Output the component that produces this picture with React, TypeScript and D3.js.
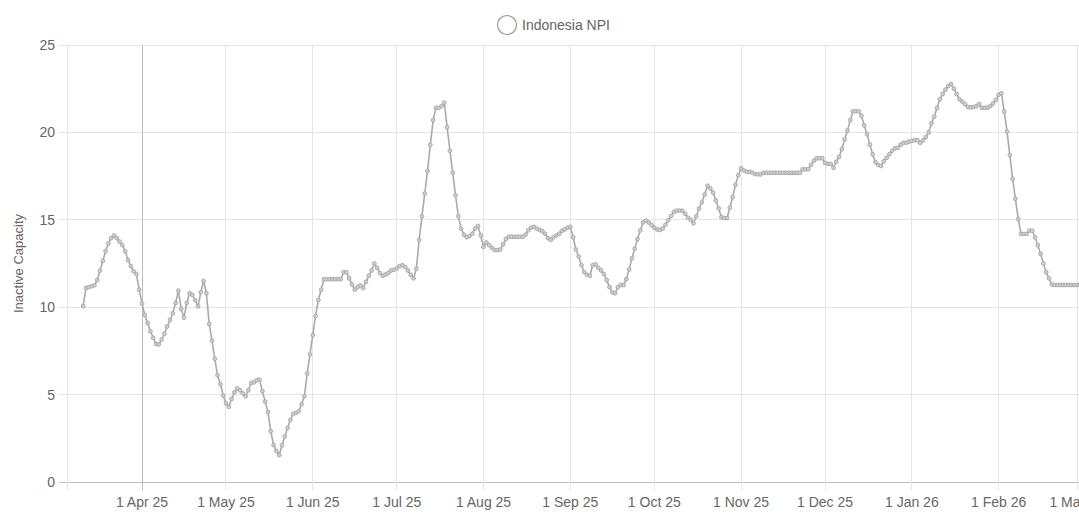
import React from 'react';
import * as d3 from 'd3';

// ---- Data (daily values, Indonesia NPI inactive capacity) ----
const SERIES_NAME = 'Indonesia NPI';
const Y_TITLE = 'Inactive Capacity';
const FIRST_DAY = '2025-03-11';

const mar25 = [10.07, 11.1, 11.15, 11.2, 11.25, 11.55, 12.1, 12.65, 13.2, 13.65, 13.95, 14.1, 13.95, 13.75, 13.55, 13.2, 12.7, 12.35, 12.05, 11.9, 11.0];
const apr25 = [10.2, 9.55, 9.1, 8.62, 8.25, 7.9, 7.87, 8.15, 8.48, 8.9, 9.27, 9.65, 10.25, 10.95, 9.9, 9.4, 10.25, 10.8, 10.7, 10.4, 10.05, 10.85, 11.5, 10.8, 9.05, 8.1, 7.05, 6.1, 5.6, 4.95];
const may25 = [4.5, 4.3, 4.75, 5.12, 5.35, 5.25, 5.07, 4.9, 5.25, 5.67, 5.7, 5.82, 5.85, 5.2, 4.6, 4.0, 2.9, 2.12, 1.78, 1.54, 2.1, 2.6, 3.1, 3.55, 3.9, 3.95, 4.05, 4.45, 4.9, 6.2, 7.3];
const jun25 = [8.4, 9.5, 10.4, 11.0, 11.6, 11.6, 11.6, 11.6, 11.6, 11.6, 11.6, 12.0, 12.0, 11.65, 11.3, 11.0, 11.15, 11.25, 11.1, 11.45, 11.8, 12.1, 12.5, 12.25, 11.95, 11.8, 11.87, 11.95, 12.1, 12.15];
const jul25 = [12.22, 12.35, 12.4, 12.3, 12.1, 11.85, 11.65, 12.2, 13.85, 15.2, 16.5, 17.8, 19.3, 20.7, 21.4, 21.4, 21.5, 21.7, 20.3, 18.95, 17.7, 16.4, 15.2, 14.5, 14.15, 14.0, 14.07, 14.2, 14.5, 14.65, 14.1];
const aug25 = [13.45, 13.7, 13.55, 13.4, 13.27, 13.27, 13.3, 13.6, 13.9, 14.03, 14.03, 14.03, 14.03, 14.03, 14.03, 14.15, 14.4, 14.55, 14.6, 14.5, 14.42, 14.35, 14.2, 13.95, 13.85, 14.0, 14.1, 14.2, 14.37, 14.45, 14.55];
const sep25 = [14.6, 14.0, 13.3, 12.9, 12.4, 12.0, 11.85, 11.8, 12.4, 12.45, 12.25, 12.1, 11.9, 11.55, 11.15, 10.85, 10.8, 11.15, 11.27, 11.27, 11.6, 12.15, 12.8, 13.35, 13.9, 14.4, 14.85, 14.95, 14.85, 14.7];
const oct25 = [14.55, 14.45, 14.42, 14.5, 14.72, 14.97, 15.22, 15.45, 15.52, 15.52, 15.52, 15.35, 15.12, 15.0, 14.8, 15.2, 15.65, 16.0, 16.45, 16.95, 16.8, 16.55, 16.1, 15.65, 15.15, 15.1, 15.1, 15.7, 16.3, 17.0, 17.55];
const nov25 = [17.95, 17.82, 17.75, 17.75, 17.7, 17.62, 17.6, 17.6, 17.69, 17.69, 17.69, 17.69, 17.69, 17.69, 17.69, 17.69, 17.69, 17.69, 17.69, 17.69, 17.69, 17.69, 17.89, 17.89, 17.89, 18.14, 18.38, 18.52, 18.52, 18.52];
const dec25 = [18.25, 18.2, 18.2, 17.98, 18.32, 18.6, 19.05, 19.6, 20.1, 20.7, 21.2, 21.21, 21.2, 20.95, 20.4, 19.9, 19.3, 18.75, 18.3, 18.14, 18.08, 18.35, 18.55, 18.75, 18.95, 19.09, 19.12, 19.3, 19.41, 19.41, 19.47];
const jan26 = [19.51, 19.55, 19.55, 19.4, 19.55, 19.73, 20.0, 20.52, 20.9, 21.4, 21.9, 22.2, 22.45, 22.65, 22.77, 22.5, 22.2, 21.9, 21.76, 21.62, 21.45, 21.43, 21.45, 21.5, 21.62, 21.41, 21.41, 21.41, 21.5, 21.65, 21.85];
const feb26 = [22.15, 22.24, 21.2, 20.05, 18.7, 17.35, 16.2, 15.05, 14.19, 14.19, 14.19, 14.38, 14.38, 14.0, 13.55, 13.05, 12.5, 12.0, 11.65, 11.3, 11.27, 11.27, 11.27, 11.27, 11.27, 11.27, 11.27, 11.27];
const mar26 = [11.27, 11.27, 11.27];

const monthBlocks = [mar25, apr25, may25, jun25, jul25, aug25, sep25, oct25, nov25, dec25, jan26, feb26, mar26];

const yTicks = [0, 5, 10, 15, 20, 25];
const xTickDates = [
  '2025-04-01', '2025-05-01', '2025-06-01', '2025-07-01', '2025-08-01', '2025-09-01',
  '2025-10-01', '2025-11-01', '2025-12-01', '2026-01-01', '2026-02-01', '2026-03-01', '2026-04-01',
];
const markerDate = '2025-04-01';

// ---- Layout ----
const W = 1079;
const H = 526;
const LEFT = 67;
const TOP = 45;
const BOTTOM = 482;
const FONT = '"Liberation Sans", Arial, Helvetica, sans-serif';

export default function App() {
  const first = new Date(FIRST_DAY + 'T00:00:00Z');
  const values = ([] as number[]).concat(...monthBlocks);
  const data = values.map((v, i) => ({ date: d3.utcDay.offset(first, i), value: v }));

  const x = d3
    .scaleUtc()
    .domain([new Date('2025-04-01T00:00:00Z'), new Date('2026-03-01T00:00:00Z')])
    .range([142, 1077]);
  const y = d3.scaleLinear().domain([0, 25]).range([BOTTOM, TOP]);

  const line = d3
    .line<{ date: Date; value: number }>()
    .x((d) => x(d.date))
    .y((d) => y(d.value));

  const fmt = d3.utcFormat('%-d %b %y');
  const ticks = xTickDates.map((s) => new Date(s + 'T00:00:00Z'));
  const marker = new Date(markerDate + 'T00:00:00Z');

  return (
    <div style={{ position: 'absolute', left: 0, top: 0, width: W, height: H, overflow: 'hidden', background: '#fff' }}>
      <svg width={W} height={H} style={{ display: 'block', fontFamily: FONT }}>
        <defs>
          <clipPath id="plot">
            <rect x={LEFT} y={TOP - 6} width={W - LEFT + 10} height={BOTTOM - TOP + 10} />
          </clipPath>
        </defs>
        <rect x={0} y={0} width={W} height={H} fill="#fff" />
        {/* horizontal grid */}
        {yTicks.map((t) => (
          <line key={'h' + t} x1={LEFT - 8} x2={W + 20} y1={y(t)} y2={y(t)}
            stroke={t === 0 ? '#bdbdbd' : '#e5e5e5'} strokeWidth={1} shapeRendering="crispEdges" />
        ))}
        {/* left border */}
        <line x1={LEFT} x2={LEFT} y1={TOP} y2={BOTTOM + 8} stroke="#e5e5e5" shapeRendering="crispEdges" />
        {/* vertical grid */}
        {ticks.map((t, i) => (
          <line key={'v' + i} x1={x(t)} x2={x(t)} y1={TOP} y2={BOTTOM + 8}
            stroke={+t === +marker ? '#bdbdbd' : '#e5e5e5'} strokeWidth={1} shapeRendering="crispEdges" />
        ))}
        {/* y tick labels */}
        {yTicks.map((t) => (
          <text key={'yl' + t} x={LEFT - 12} y={y(t)} textAnchor="end" dominantBaseline="central"
            fontSize={14} fill="#666">{t}</text>
        ))}
        {/* x tick labels */}
        {ticks.map((t, i) => (
          <text key={'xl' + i} x={x(t)} y={502} textAnchor="middle" dominantBaseline="central"
            fontSize={14} fill="#666">{fmt(t)}</text>
        ))}
        {/* y title */}
        <text transform={`translate(18,${(TOP + BOTTOM) / 2}) rotate(-90)`} textAnchor="middle"
          dominantBaseline="central" fontSize={13} fill="#666">{Y_TITLE}</text>
        {/* series */}
        <g clipPath="url(#plot)">
          <path d={line(data) || ''} fill="none" stroke="#aaaaaa" strokeWidth={1.6} />
          {data.map((d, i) => (
            <circle key={i} cx={x(d.date)} cy={y(d.value)} r={1.9} fill="#cfcfcf" stroke="#a6a6a6" strokeWidth={0.9} />
          ))}
        </g>
        {/* legend */}
        <circle cx={507} cy={25} r={9.5} fill="#fff" stroke="#999" strokeWidth={1.2} />
        <text x={522} y={25} dominantBaseline="central" fontSize={14} fill="#666">{SERIES_NAME}</text>
      </svg>
    </div>
  );
}
